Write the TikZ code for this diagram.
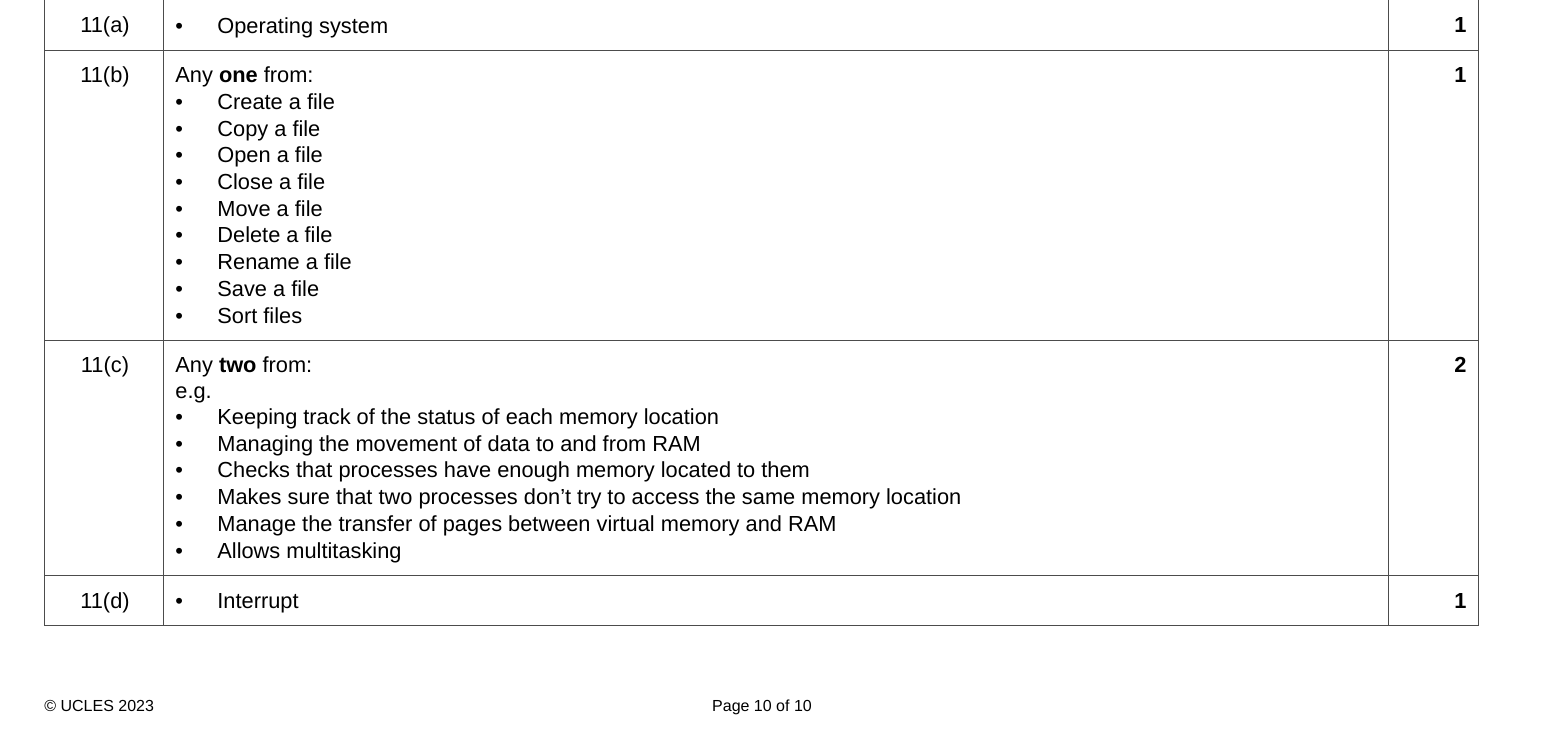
\documentclass[tikz,border=0pt]{standalone}
\usepackage{fontspec}
\setmainfont{Liberation Sans}
\begin{document}
\begin{tikzpicture}[x=0.5pt,y=-0.5pt,
  every node/.style={font=\fontsize{10.9}{13}\selectfont, inner sep=0pt},
  cell/.style={anchor=base west},
  markcell/.style={anchor=base east, font=\fontsize{10.9}{13}\selectfont\bfseries},
  qlabel/.style={anchor=base},
  grid line/.style={line width=0.5pt, draw=black!70}]
\useasboundingbox (0,0) rectangle (1568,740);

% table frame
\draw[grid line] (44,0) -- (44,625) -- (1478,625) -- (1478,0);
\foreach \ypos in {50,340,575} \draw[grid line] (44,\ypos) -- (1478,\ypos);
\foreach \xpos in {163,1388} \draw[grid line] (\xpos,0) -- (\xpos,625);

% question labels and marks
\node[qlabel] (qa) at (105,32) {11(a)};
\node[qlabel] (qb) at (105,82) {11(b)};
\node[qlabel] (qc) at (105,372) {11(c)};
\node[qlabel] (qd) at (105,608) {11(d)};
\node[markcell] (ma) at (1467,32) {1};
\node[markcell] (mb) at (1467,82) {1};
\node[markcell] (mc) at (1467,372) {2};
\node[markcell] (md) at (1467,608) {1};

% answers
\node[cell] (anyone) at (175,82) {Any \textbf{one} from:};
\node[cell] (anytwo) at (175,372) {Any \textbf{two} from:};
\node[cell] (eg) at (175,398) {e.g.};

\foreach \txt/\yb [count=\i] in {Operating system/33, Create a file/109, Copy a file/136,
    Open a file/162, Close a file/189, Move a file/216, Delete a file/242,
    Rename a file/269, Save a file/296, Sort files/323,
    Keeping track of the status of each memory location/424,
    Managing the movement of data to and from RAM/451,
    Checks that processes have enough memory located to them/477,
    Makes sure that two processes don’t try to access the same memory location/504,
    Manage the transfer of pages between virtual memory and RAM/531,
    Allows multitasking/558, Interrupt/608} {
  \node[cell] (bul\i) at (175,\yb) {\textbullet};
  \node[cell] (ans\i) at (217,\yb) {\txt};
}

% footer
\node[cell, font=\fontsize{8}{9.5}\selectfont] (copy) at (44,711) {© UCLES 2023};
\node[anchor=base, font=\fontsize{8}{9.5}\selectfont] (page) at (762,711) {Page 10 of 10};
\end{tikzpicture}
\end{document}
